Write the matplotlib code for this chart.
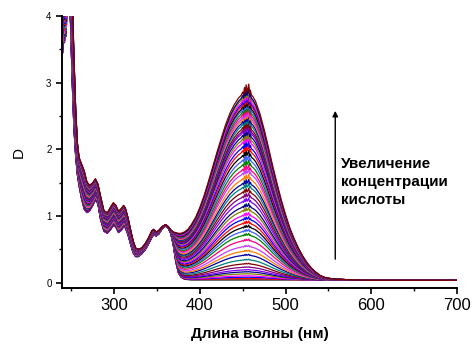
import numpy as np
import matplotlib
matplotlib.use("Agg")
import matplotlib.pyplot as plt
from matplotlib.ticker import MultipleLocator

#---------------------------------
# DATA
#---------------------------------

wavelength = [240, 241, 242, 243, 244, 245, 247, 249, 251, 253, 255, 257, 259, 262, 265,
              268, 271, 275, 278, 281, 284, 288, 292, 296, 299, 302, 305, 308, 311, 313,
              316, 319, 322, 325, 328, 332, 336, 340, 344, 346, 349, 352, 356, 360, 363,
              366, 369, 372, 375, 378, 382, 386, 390, 395, 400, 405, 410, 415, 420, 425,
              430, 435, 440, 445, 448, 450, 451, 452, 453, 454, 455, 456, 457, 458, 459,
              460, 462, 465, 470, 475, 480, 485, 490, 495, 500, 505, 510, 515, 520, 525,
              530, 535, 540, 545, 550, 560, 570, 580, 600, 650, 700]

# first spectrum (no acid)
d_start = [3.45, 4.40, 3.60, 4.50, 3.70, 4.50, 4.40, 3.90, 3.00, 2.30, 1.90, 1.62, 1.45, 1.25, 1.10,
           1.05, 1.07, 1.16, 1.24, 1.18, 0.95, 0.77, 0.74, 0.80, 0.86, 0.83, 0.75, 0.78, 0.84, 0.82,
           0.72, 0.58, 0.45, 0.39, 0.39, 0.43, 0.49, 0.58, 0.68, 0.72, 0.70, 0.73, 0.81, 0.85, 0.82,
           0.74, 0.56, 0.30, 0.14, 0.08, 0.05, 0.045, 0.04, 0.04, 0.04, 0.04, 0.04, 0.04, 0.04, 0.04,
           0.04, 0.04, 0.04, 0.04, 0.04, 0.04, 0.04, 0.04, 0.04, 0.04, 0.04, 0.04, 0.04, 0.04, 0.04,
           0.04, 0.04, 0.04, 0.04, 0.04, 0.04, 0.04, 0.04, 0.04, 0.04, 0.04, 0.04, 0.04, 0.04, 0.04,
           0.04, 0.04, 0.04, 0.04, 0.04, 0.04, 0.04, 0.04, 0.04, 0.04, 0.04]

# last spectrum (max acid)
d_end = [4.50, 4.55, 4.50, 4.60, 4.50, 4.60, 4.60, 4.50, 4.30, 3.40, 2.60, 2.10, 1.88, 1.78, 1.68,
         1.52, 1.46, 1.50, 1.56, 1.48, 1.30, 1.08, 1.05, 1.14, 1.20, 1.16, 1.07, 1.11, 1.16, 1.12,
         0.98, 0.80, 0.63, 0.52, 0.50, 0.52, 0.58, 0.67, 0.78, 0.80, 0.76, 0.78, 0.84, 0.87, 0.84,
         0.79, 0.76, 0.75, 0.74, 0.74, 0.76, 0.80, 0.87, 0.98, 1.13, 1.31, 1.52, 1.74, 1.96, 2.17,
         2.37, 2.54, 2.67, 2.77, 2.81, 2.86, 2.82, 2.93, 2.85, 2.97, 2.86, 2.91, 2.98, 2.84, 2.89,
         2.82, 2.79, 2.72, 2.54, 2.30, 2.03, 1.75, 1.49, 1.24, 1.02, 0.82, 0.66, 0.52, 0.40, 0.30,
         0.22, 0.16, 0.11, 0.08, 0.065, 0.05, 0.045, 0.04, 0.035, 0.035, 0.035]

# absorbance at 455 nm of every spectrum in the titration
peak_455 = [0.04, 0.06, 0.08, 0.10, 0.13, 0.16, 0.19, 0.23, 0.28, 0.34, 0.41, 0.47, 0.54, 0.63,
            0.71, 0.77, 0.83, 0.89, 0.95, 1.01, 1.08, 1.14, 1.22, 1.29, 1.36, 1.43, 1.49, 1.56,
            1.64, 1.70, 1.77, 1.84, 1.91, 1.98, 2.04, 2.11, 2.16, 2.21, 2.26, 2.29, 2.33, 2.38,
            2.42, 2.46, 2.49, 2.53, 2.57, 2.61, 2.64, 2.68, 2.71, 2.74, 2.78, 2.81, 2.86]

x_ticks = [300, 400, 500, 600, 700]
y_ticks = [0, 1, 2, 3, 4]

# Origin-like colour increment list
origin_colors = ["#000000", "#FF0000", "#0000FF", "#FF00FF", "#808000", "#000080",
                 "#8000FF", "#800080", "#800000", "#008080", "#0000A0", "#FF8000",
                 "#C040FF", "#FF0080", "#008000", "#4060FF"]

#---------------------------------
# PLOT
#---------------------------------

plt.rcParams['font.family'] = ['Liberation Sans', 'DejaVu Sans']

wl = np.array(wavelength)
d0 = np.array(d_start)
d1 = np.array(d_end)
i455 = wavelength.index(455)

fig = plt.figure(figsize=(4.73, 3.44), dpi=100)
ax = fig.add_axes([0.131, 0.163, 0.835, 0.790])

n = len(peak_455)
for i, h in enumerate(peak_455):
	frac = (h - d0[i455]) / (d1[i455] - d0[i455])
	spec = d0 + frac * (d1 - d0)
	col = origin_colors[i % len(origin_colors)]
	if i == n - 1:
		col = "#800000"
	ax.plot(wl, spec, color=col, lw=0.9)

ax.set_xlim(239, 700)
ax.set_ylim(-0.08, 4.0)

ax.set_xticks(x_ticks)
ax.set_yticks(y_ticks)
ax.xaxis.set_minor_locator(MultipleLocator(50))
ax.yaxis.set_minor_locator(MultipleLocator(0.5))
ax.tick_params(axis="x", which="major", direction="out", length=4.5, width=1.2, labelsize=12, pad=3)
ax.tick_params(axis="y", which="major", direction="out", length=4.5, width=1.2, labelsize=7, pad=3)
ax.tick_params(which="minor", direction="out", length=2.5, width=1.0)

for side in ["top", "right"]:
	ax.spines[side].set_visible(False)
for side in ["left", "bottom"]:
	ax.spines[side].set_linewidth(1.4)

ax.set_xlabel("Длина волны (нм)", fontsize=11, fontweight="bold", labelpad=10)
ax.set_ylabel("D", fontsize=11, labelpad=15)

# arrow + annotation
ax.annotate("", xy=(558, 2.62), xytext=(558, 0.31),
            arrowprops=dict(arrowstyle="-|>", color="k", lw=1.0, mutation_scale=8))
ax.text(565, 1.88, "Увеличение\nконцентрации\nкислоты", fontsize=11, fontweight="bold",
        va="top", ha="left", linespacing=1.35)

fig.savefig("out.png", dpi=100)
